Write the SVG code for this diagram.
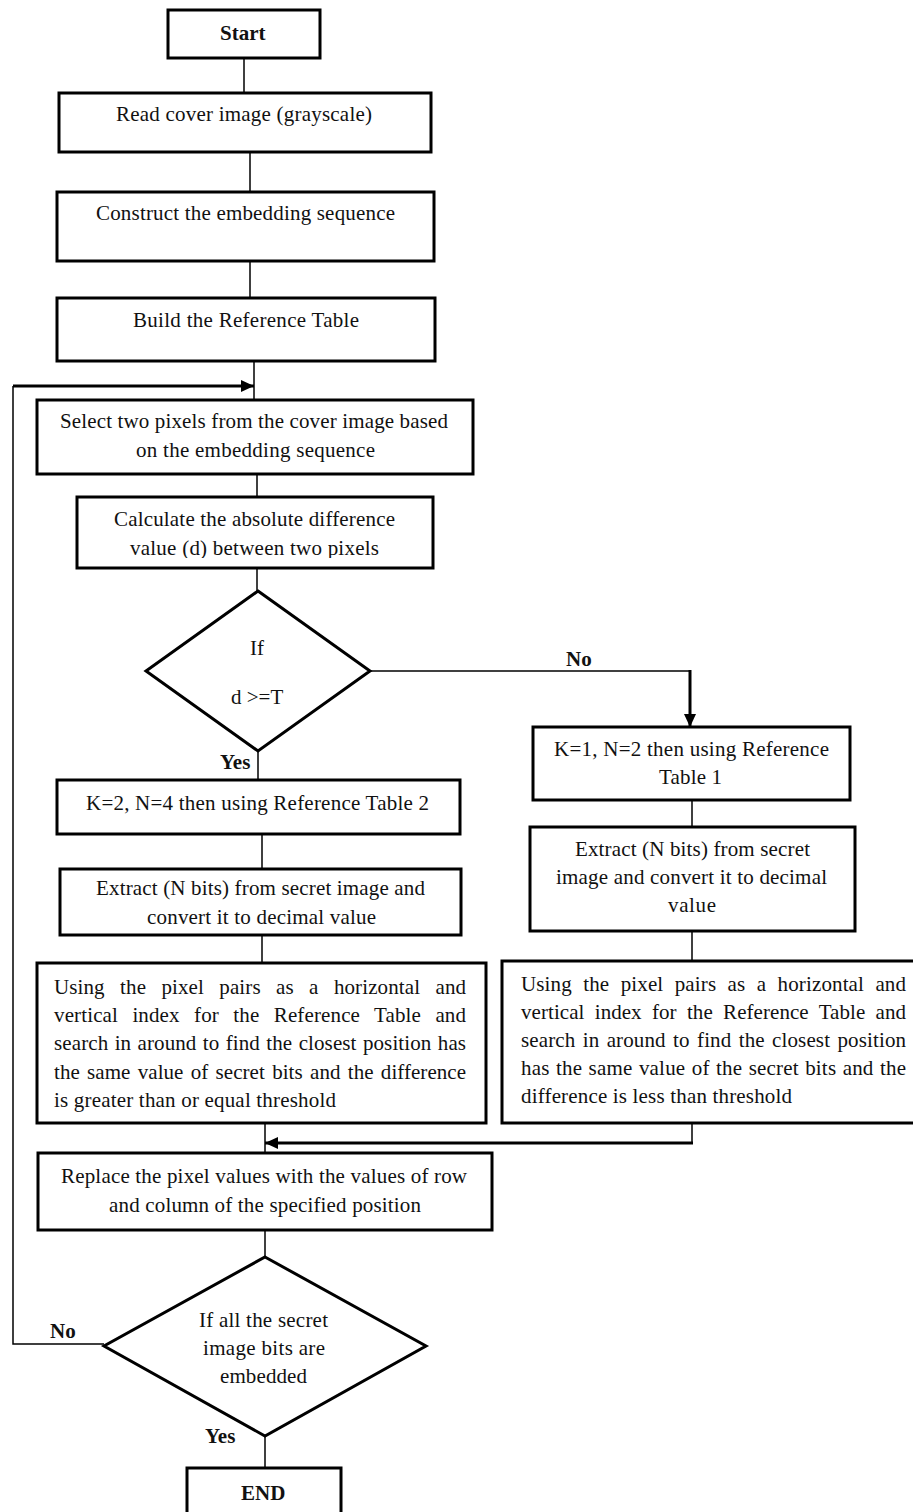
<svg xmlns="http://www.w3.org/2000/svg" width="913" height="1512" viewBox="0 0 913 1512">
<style>
.box{fill:#fff;stroke:#000;stroke-width:3}
.ln{fill:none;stroke:#000;stroke-width:1.5}
.thk{fill:none;stroke:#000;stroke-width:3}
text{font-family:"Liberation Serif","Times New Roman",serif;font-size:21px;fill:#111}
.b{font-weight:bold}
</style>
<defs>
<marker id="ah" viewBox="0 0 13 12" refX="13" refY="6" markerWidth="13" markerHeight="12" markerUnits="userSpaceOnUse" orient="auto">
<path d="M0,0 L13,6 L0,12 z" fill="#000"/>
</marker>
<clipPath id="clipCalc"><rect x="77" y="497" width="356" height="61"/></clipPath>
</defs>
<rect width="913" height="1512" fill="#fff"/>

<g id="connectors">
<line class="ln" x1="244" y1="58" x2="244" y2="93"/>
<line class="ln" x1="250" y1="152" x2="250" y2="192"/>
<line class="ln" x1="250" y1="261" x2="250" y2="298"/>
<line class="ln" x1="254" y1="361" x2="254" y2="400"/>
<polyline class="ln" points="104,1344 13,1344 13,386"/>
<line class="thk" x1="13" y1="386" x2="254" y2="386" marker-end="url(#ah)"/>
<line class="ln" x1="257" y1="474" x2="257" y2="497"/>
<line class="ln" x1="257" y1="568" x2="257" y2="591"/>
<line class="ln" x1="370" y1="671" x2="690" y2="671"/>
<line class="thk" x1="690" y1="670" x2="690" y2="727" marker-end="url(#ah)"/>
<line class="ln" x1="258" y1="751" x2="258" y2="780"/>
<line class="ln" x1="262" y1="834" x2="262" y2="869"/>
<line class="ln" x1="262" y1="935" x2="262" y2="963"/>
<line class="ln" x1="692" y1="800" x2="692" y2="827"/>
<line class="ln" x1="692" y1="931" x2="692" y2="961"/>
<line class="ln" x1="692" y1="1123" x2="692" y2="1143"/>
<line class="thk" x1="693" y1="1143" x2="265" y2="1143" marker-end="url(#ah)"/>
<line class="ln" x1="265" y1="1123" x2="265" y2="1153"/>
<line class="ln" x1="265" y1="1230" x2="265" y2="1257"/>
<line class="ln" x1="265" y1="1436" x2="265" y2="1468"/>
<text class="b" x="566" y="666">No</text>
<text class="b" x="220" y="769">Yes</text>
<text class="b" x="50" y="1338">No</text>
<text class="b" x="205" y="1443">Yes</text>
</g>

<g id="start">
<rect class="box" x="168" y="10" width="152" height="48"/>
<text class="b" x="220" y="40">Start</text>
</g>

<g id="read">
<rect class="box" x="59" y="93" width="372" height="59"/>
<text x="116" y="121" textLength="256" lengthAdjust="spacing">Read cover image (grayscale)</text>
</g>

<g id="construct">
<rect class="box" x="57" y="192" width="377" height="69"/>
<text x="96" y="220" textLength="299" lengthAdjust="spacing">Construct the embedding sequence</text>
</g>

<g id="build">
<rect class="box" x="57" y="298" width="378" height="63"/>
<text x="133" y="327" textLength="226" lengthAdjust="spacing">Build the Reference Table</text>
</g>

<g id="select">
<rect class="box" x="37" y="400" width="436" height="74"/>
<text x="60" y="428" textLength="388" lengthAdjust="spacing">Select two pixels from the cover image based</text>
<text x="136" y="457" textLength="239" lengthAdjust="spacing">on the embedding sequence</text>
</g>

<g id="calculate">
<rect class="box" x="77" y="497" width="356" height="71"/>
<text x="114" y="526" textLength="281" lengthAdjust="spacing">Calculate the absolute difference</text>
<text x="130" y="555" textLength="249" lengthAdjust="spacing" clip-path="url(#clipCalc)">value (d) between two pixels</text>
</g>

<g id="decision1">
<polygon class="box" points="258,591 370,671 258,751 146,671"/>
<text x="250" y="655">If</text>
<text x="231" y="704">d &gt;=T</text>
</g>

<g id="k2">
<rect class="box" x="57" y="780" width="403" height="54"/>
<text x="86" y="810" textLength="343" lengthAdjust="spacing">K=2, N=4 then using Reference Table 2</text>
</g>

<g id="extractLeft">
<rect class="box" x="60" y="869" width="401" height="66"/>
<text x="96" y="895" textLength="329" lengthAdjust="spacing">Extract (N bits) from secret image and</text>
<text x="147" y="924" textLength="229" lengthAdjust="spacing">convert it to decimal value</text>
</g>

<g id="usingLeft">
<rect class="box" x="37" y="963" width="449" height="160"/>
<text x="54" y="994" textLength="412" lengthAdjust="spacing" style="word-spacing:10px">Using the pixel pairs as a horizontal and</text>
<text x="54" y="1022" textLength="412" lengthAdjust="spacing" style="word-spacing:9px">vertical index for the Reference Table and</text>
<text x="54" y="1050" textLength="412" lengthAdjust="spacing" style="word-spacing:1px">search in around to find the closest position has</text>
<text x="54" y="1079" textLength="412" lengthAdjust="spacing" style="word-spacing:2px">the same value of secret bits and the difference</text>
<text x="54" y="1107" textLength="282" lengthAdjust="spacing">is greater than or equal threshold</text>
</g>

<g id="k1">
<rect class="box" x="533" y="727" width="317" height="73"/>
<text x="554" y="756" textLength="275" lengthAdjust="spacing">K=1, N=2 then using Reference</text>
<text x="659" y="784" textLength="63" lengthAdjust="spacing">Table 1</text>
</g>

<g id="extractRight">
<rect class="box" x="530" y="827" width="325" height="104"/>
<text x="575" y="856" textLength="235" lengthAdjust="spacing">Extract (N bits) from secret</text>
<text x="556" y="884" textLength="271" lengthAdjust="spacing">image and convert it to decimal</text>
<text x="668" y="912" textLength="48" lengthAdjust="spacing">value</text>
</g>

<g id="usingRight">
<rect class="box" x="502" y="961" width="414" height="162"/>
<text x="521" y="991" textLength="385" lengthAdjust="spacing" style="word-spacing:6px">Using the pixel pairs as a horizontal and</text>
<text x="521" y="1019" textLength="385" lengthAdjust="spacing" style="word-spacing:5px">vertical index for the Reference Table and</text>
<text x="521" y="1047" textLength="385" lengthAdjust="spacing" style="word-spacing:2px">search in around to find the closest position</text>
<text x="521" y="1075" textLength="385" lengthAdjust="spacing" style="word-spacing:1px">has the same value of the secret bits and the</text>
<text x="521" y="1103" textLength="271" lengthAdjust="spacing">difference is less than threshold</text>
</g>

<g id="replace">
<rect class="box" x="38" y="1153" width="454" height="77"/>
<text x="61" y="1183" textLength="406" lengthAdjust="spacing">Replace the pixel values with the values of row</text>
<text x="109" y="1212" textLength="312" lengthAdjust="spacing">and column of the specified position</text>
</g>

<g id="decision2">
<polygon class="box" points="265,1257 426,1346 265,1436 104,1346"/>
<text x="199" y="1327" textLength="129" lengthAdjust="spacing">If all the secret</text>
<text x="203" y="1355" textLength="122" lengthAdjust="spacing">image bits are</text>
<text x="220" y="1383" textLength="87" lengthAdjust="spacing">embedded</text>
</g>

<g id="end">
<rect class="box" x="187" y="1468" width="154" height="50"/>
<text class="b" x="241" y="1500">END</text>
</g>
</svg>
